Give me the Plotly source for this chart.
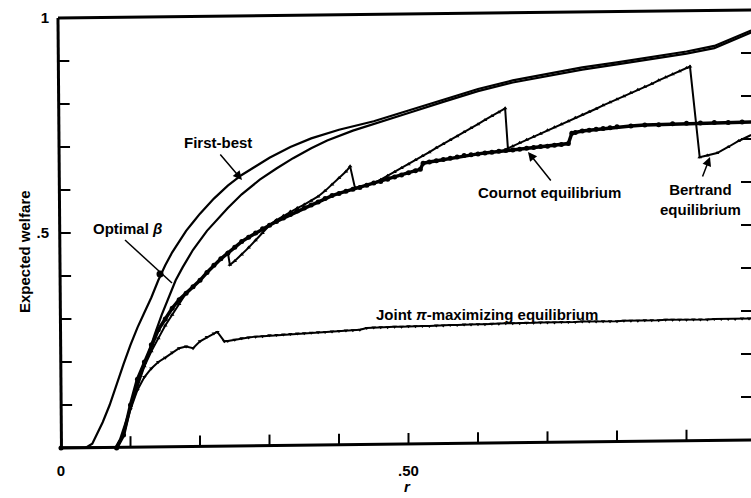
import plotly.graph_objects as go

# ---------------- data ----------------
first_best_x = [0, 0.035, 0.045, 0.06, 0.07, 0.08, 0.09, 0.10, 0.11, 0.12, 0.13, 0.14, 0.15, 0.16, 0.17,
                0.18, 0.19, 0.20, 0.22, 0.24, 0.26, 0.28, 0.30, 0.33, 0.36, 0.40, 0.45, 0.50, 0.55, 0.60,
                0.65, 0.70, 0.75, 0.80, 0.85, 0.90, 0.94, 0.96, 0.993]
first_best_y = [0, 0, 0.01, 0.06, 0.10, 0.15, 0.195, 0.24, 0.28, 0.315, 0.35, 0.39, 0.425, 0.455, 0.48,
                0.505, 0.525, 0.545, 0.58, 0.61, 0.635, 0.655, 0.675, 0.70, 0.72, 0.74, 0.76, 0.785, 0.81, 0.835,
                0.855, 0.87, 0.885, 0.897, 0.91, 0.922, 0.935, 0.948, 0.971]

optimal_beta_x = [0, 0.078, 0.085, 0.095, 0.105, 0.115, 0.125, 0.135, 0.145, 0.155, 0.165, 0.175, 0.19, 0.21,
                  0.24, 0.26, 0.286, 0.31, 0.334, 0.36, 0.383, 0.42, 0.45, 0.50, 0.55, 0.60, 0.65, 0.70,
                  0.75, 0.80, 0.85, 0.90, 0.94, 0.96, 0.993]
optimal_beta_y = [0, 0, 0.02, 0.07, 0.12, 0.17, 0.215, 0.265, 0.31, 0.35, 0.39, 0.42, 0.461, 0.505,
                  0.558, 0.59, 0.624, 0.65, 0.674, 0.697, 0.715, 0.738, 0.753, 0.779, 0.805, 0.83, 0.85, 0.865,
                  0.88, 0.892, 0.905, 0.917, 0.93, 0.943, 0.966]

cournot_x = [0, 0.08, 0.09, 0.10, 0.11, 0.12, 0.13, 0.14, 0.15, 0.16, 0.17, 0.18, 0.19, 0.20, 0.21, 0.22,
             0.23, 0.24, 0.25, 0.26, 0.27, 0.28, 0.29, 0.30, 0.31, 0.32, 0.33, 0.34, 0.35, 0.36, 0.37, 0.38,
             0.39, 0.40, 0.41, 0.42, 0.43, 0.44, 0.45, 0.46, 0.47, 0.48, 0.49, 0.50, 0.51, 0.517, 0.521,
             0.53, 0.54, 0.55, 0.56, 0.57, 0.58, 0.59, 0.60, 0.61, 0.62, 0.63, 0.64, 0.65, 0.66, 0.67, 0.68,
             0.69, 0.70, 0.71, 0.72, 0.73, 0.735, 0.74, 0.75, 0.76, 0.77, 0.78, 0.79, 0.80, 0.82, 0.84,
             0.86, 0.88, 0.90, 0.92, 0.94, 0.96, 0.98, 0.993]
cournot_y = [0, 0, 0.03, 0.10, 0.16, 0.20, 0.24, 0.275, 0.30, 0.325, 0.345, 0.36, 0.375, 0.39, 0.408, 0.425,
             0.44, 0.453, 0.467, 0.48, 0.49, 0.50, 0.51, 0.518, 0.527, 0.535, 0.543, 0.551, 0.558, 0.565, 0.572, 0.58,
             0.587, 0.592, 0.597, 0.602, 0.606, 0.611, 0.616, 0.62, 0.625, 0.63, 0.635, 0.64, 0.645, 0.648, 0.662,
             0.665, 0.668, 0.671, 0.674, 0.677, 0.68, 0.682, 0.684, 0.686, 0.688, 0.69, 0.692, 0.693, 0.695, 0.697, 0.699,
             0.701, 0.702, 0.704, 0.706, 0.708, 0.732, 0.734, 0.737, 0.739, 0.741, 0.743, 0.745, 0.747, 0.749, 0.751,
             0.752, 0.754, 0.755, 0.756, 0.757, 0.757, 0.758, 0.758]

bertrand_x = [0, 0.08, 0.09, 0.10, 0.11, 0.12, 0.13, 0.14, 0.15, 0.16, 0.17, 0.18, 0.19, 0.20, 0.21, 0.22,
              0.23, 0.24, 0.243, 0.25, 0.26, 0.27, 0.28, 0.29, 0.30, 0.31, 0.32, 0.33, 0.34, 0.35, 0.36, 0.37,
              0.38, 0.39, 0.40, 0.41, 0.416, 0.423, 0.43, 0.44, 0.45, 0.46, 0.47, 0.48, 0.49, 0.50, 0.51, 0.52,
              0.53, 0.54, 0.55, 0.56, 0.57, 0.58, 0.59, 0.60, 0.61, 0.62, 0.63, 0.639, 0.643, 0.65, 0.66, 0.67,
              0.68, 0.69, 0.70, 0.71, 0.72, 0.73, 0.74, 0.75, 0.76, 0.77, 0.78, 0.79, 0.80, 0.81, 0.82, 0.83,
              0.84, 0.85, 0.86, 0.87, 0.88, 0.89, 0.90, 0.905, 0.919, 0.93, 0.944, 0.96, 0.975, 0.993]
bertrand_y = [0, 0, 0.03, 0.10, 0.155, 0.19, 0.225, 0.255, 0.285, 0.31, 0.335, 0.36, 0.375, 0.39, 0.408, 0.425,
              0.44, 0.455, 0.426, 0.435, 0.45, 0.466, 0.483, 0.50, 0.518, 0.53, 0.54, 0.55, 0.558, 0.566, 0.575, 0.585,
              0.598, 0.613, 0.628, 0.643, 0.655, 0.605, 0.607, 0.611, 0.616, 0.624, 0.633, 0.642, 0.651, 0.66, 0.67, 0.679,
              0.688, 0.698, 0.707, 0.716, 0.725, 0.735, 0.744, 0.753, 0.763, 0.772, 0.781, 0.79, 0.697, 0.702, 0.71, 0.717,
              0.724, 0.731, 0.739, 0.746, 0.753, 0.76, 0.768, 0.775, 0.782, 0.789, 0.797, 0.804, 0.811, 0.818, 0.826, 0.833,
              0.84, 0.847, 0.855, 0.862, 0.869, 0.876, 0.884, 0.887, 0.676, 0.68, 0.686, 0.70, 0.714, 0.728]

joint_x = [0, 0.08, 0.09, 0.10, 0.11, 0.12, 0.13, 0.14, 0.15, 0.16, 0.17, 0.18, 0.19, 0.20, 0.21, 0.22,
           0.225, 0.235, 0.24, 0.25, 0.26, 0.27, 0.28, 0.29, 0.30, 0.31, 0.32, 0.33, 0.34, 0.35, 0.36, 0.37,
           0.38, 0.39, 0.40, 0.41, 0.42, 0.43, 0.44, 0.45, 0.46, 0.47, 0.48, 0.49, 0.50, 0.51, 0.52, 0.53,
           0.54, 0.55, 0.56, 0.57, 0.58, 0.59, 0.60, 0.61, 0.62, 0.63, 0.64, 0.65, 0.66, 0.67, 0.68, 0.69,
           0.70, 0.71, 0.72, 0.73, 0.74, 0.75, 0.76, 0.77, 0.78, 0.79, 0.80, 0.81, 0.82, 0.83, 0.84, 0.85,
           0.86, 0.87, 0.88, 0.89, 0.90, 0.91, 0.92, 0.93, 0.94, 0.95, 0.96, 0.97, 0.98, 0.99, 0.993]
joint_y = [0, 0, 0.03, 0.09, 0.135, 0.165, 0.185, 0.20, 0.21, 0.222, 0.232, 0.236, 0.232, 0.248, 0.258, 0.266,
           0.27, 0.248, 0.249, 0.252, 0.255, 0.257, 0.259, 0.26, 0.262, 0.263, 0.264, 0.265, 0.266, 0.267, 0.268, 0.269,
           0.27, 0.271, 0.272, 0.273, 0.274, 0.275, 0.279, 0.28, 0.281, 0.281, 0.282, 0.282, 0.283, 0.283, 0.284, 0.284,
           0.285, 0.285, 0.286, 0.286, 0.287, 0.287, 0.288, 0.288, 0.289, 0.289, 0.29, 0.29, 0.29, 0.291, 0.291, 0.292,
           0.292, 0.292, 0.293, 0.293, 0.293, 0.294, 0.294, 0.294, 0.295, 0.295, 0.295, 0.296, 0.296, 0.296, 0.297, 0.297,
           0.297, 0.298, 0.298, 0.298, 0.298, 0.299, 0.299, 0.299, 0.30, 0.30, 0.30, 0.30, 0.301, 0.301, 0.301]

x_tick_vals = [0, 0.5]
x_tick_text = ["0", ".50"]
y_tick_vals = [0.5, 1.0]
y_tick_text = [".5", "1"]
minor_ticks = [0.1, 0.2, 0.3, 0.4, 0.5, 0.6, 0.7, 0.8, 0.9]

# ---------------- layout geometry ----------------
W, H = 751, 498
ML, MR, MT, MB = 61, 0, 18, 50
PW, PH = W - ML - MR, H - MT - MB
X_MAX = 690 / 695
FONT = "Liberation Sans, Arial, Helvetica, sans-serif"
TILT = 8 / PH          # scanned page is slightly rotated
LEFT_TILT = -3.5 / PW


def px(xp):
    return (xp - ML) / PW


def py(yp):
    return (H - MB - yp) / PH


fig = go.Figure()

line_kw = dict(mode="lines", cliponaxis=False, showlegend=False, hoverinfo="skip")
fig.add_trace(go.Scatter(x=first_best_x, y=first_best_y, line=dict(color="black", width=2.2), **line_kw))
fig.add_trace(go.Scatter(x=optimal_beta_x, y=optimal_beta_y, line=dict(color="black", width=2.2), **line_kw))
fig.add_trace(go.Scatter(x=joint_x, y=joint_y, mode="lines+markers", cliponaxis=False, showlegend=False,
                         line=dict(color="black", width=2),
                         marker=dict(symbol="triangle-down", size=4, color="black")))
fig.add_trace(go.Scatter(x=bertrand_x, y=bertrand_y, mode="lines+markers", cliponaxis=False, showlegend=False,
                         line=dict(color="black", width=2),
                         marker=dict(symbol="triangle-up", size=4, color="black")))
fig.add_trace(go.Scatter(x=cournot_x, y=cournot_y, mode="lines+markers", cliponaxis=False, showlegend=False,
                         line=dict(color="black", width=3.5),
                         marker=dict(symbol="circle", size=5, color="black")))

shapes = []
# frame (slightly tilted like the scan)
bl = (0.0007, 0.0)
br = (1.0, TILT * (1.0 - bl[0]))
tl = (bl[0] + LEFT_TILT, 1.0)
tr = (1.0, 1.0 + TILT * (1.0 - tl[0]))
for a, b in [(bl, br), (bl, tl), (tl, tr)]:
    shapes.append(dict(type="line", xref="paper", yref="paper", x0=a[0], y0=a[1], x1=b[0], y1=b[1],
                       line=dict(color="black", width=3)))
# ticks
for t in minor_ticks:
    xp = t / X_MAX
    yb = TILT * xp
    shapes.append(dict(type="line", xref="paper", yref="paper", x0=xp, x1=xp, y0=yb, y1=yb + 11 / PH,
                       line=dict(color="black", width=2)))
    xl = bl[0] + LEFT_TILT * t
    shapes.append(dict(type="line", xref="paper", yref="paper", x0=xl, x1=xl + 11 / PW, y0=t, y1=t,
                       line=dict(color="black", width=2)))
    yr = t + TILT
    shapes.append(dict(type="line", xref="paper", yref="paper", x0=1.0 - 10 / PW, x1=1.0, y0=yr, y1=yr,
                       line=dict(color="black", width=2)))
# "Optimal beta" pointer line and dot
shapes.append(dict(type="line", xref="paper", yref="paper", x0=px(125), y0=py(240), x1=px(172), y1=py(283),
                   line=dict(color="black", width=1.5)))
shapes.append(dict(type="circle", xref="paper", yref="paper", x0=px(156.5), x1=px(163.5), y0=py(277.5),
                   y1=py(270.5), fillcolor="black", line=dict(color="black", width=0)))

txt = dict(family=FONT, size=15, color="black", weight="bold")
ann = []


def label(text, xp_, yp_, **kw):
    ann.append(dict(text=text, xref="paper", yref="paper", x=px(xp_), y=py(yp_), showarrow=False,
                    font=txt, xanchor="center", yanchor="middle", **kw))


def arrow(head, tail):
    ann.append(dict(text="", xref="paper", yref="paper", x=px(head[0]), y=py(head[1]),
                    ax=tail[0] - head[0], ay=tail[1] - head[1], axref="pixel", ayref="pixel",
                    showarrow=True, arrowhead=2, arrowsize=1.2, arrowwidth=1.5, arrowcolor="black"))


label("First-best", 218, 142)
arrow((242, 180), (219, 153))
label("Optimal <i>β</i>", 127, 228)
label("Cournot equilibrium", 549, 193)
arrow((528, 152), (552, 182))
label("Bertrand<br>equilibrium", 700, 199)
arrow((710, 157), (702, 178))
label("Joint <i>π</i>-maximizing equilibrium", 487, 314)
label("Expected welfare", 24, 252, textangle=-90)
label("<i>r</i>", 407, 487)

fig.update_layout(
    width=W, height=H,
    margin=dict(l=ML, r=MR, t=MT, b=MB, pad=0),
    paper_bgcolor="white", plot_bgcolor="white",
    font=txt,
    shapes=shapes,
    annotations=ann,
    hovermode=False,
    xaxis=dict(range=[0, X_MAX], showgrid=False, zeroline=False, showline=False,
               ticks="outside", ticklen=9, tickcolor="rgba(0,0,0,0)",
               tickvals=x_tick_vals, ticktext=x_tick_text,
               tickfont=dict(family=FONT, size=15, color="black", weight="bold")),
    yaxis=dict(range=[0, 1], showgrid=False, zeroline=False, showline=False,
               ticks="outside", ticklen=8, tickcolor="rgba(0,0,0,0)",
               tickvals=y_tick_vals, ticktext=y_tick_text,
               tickfont=dict(family=FONT, size=15, color="black", weight="bold")),
)

fig.write_html("out.html", config={"displayModeBar": False, "staticPlot": True},
               post_script="document.body.style.margin='0';document.body.style.overflow='hidden';")
